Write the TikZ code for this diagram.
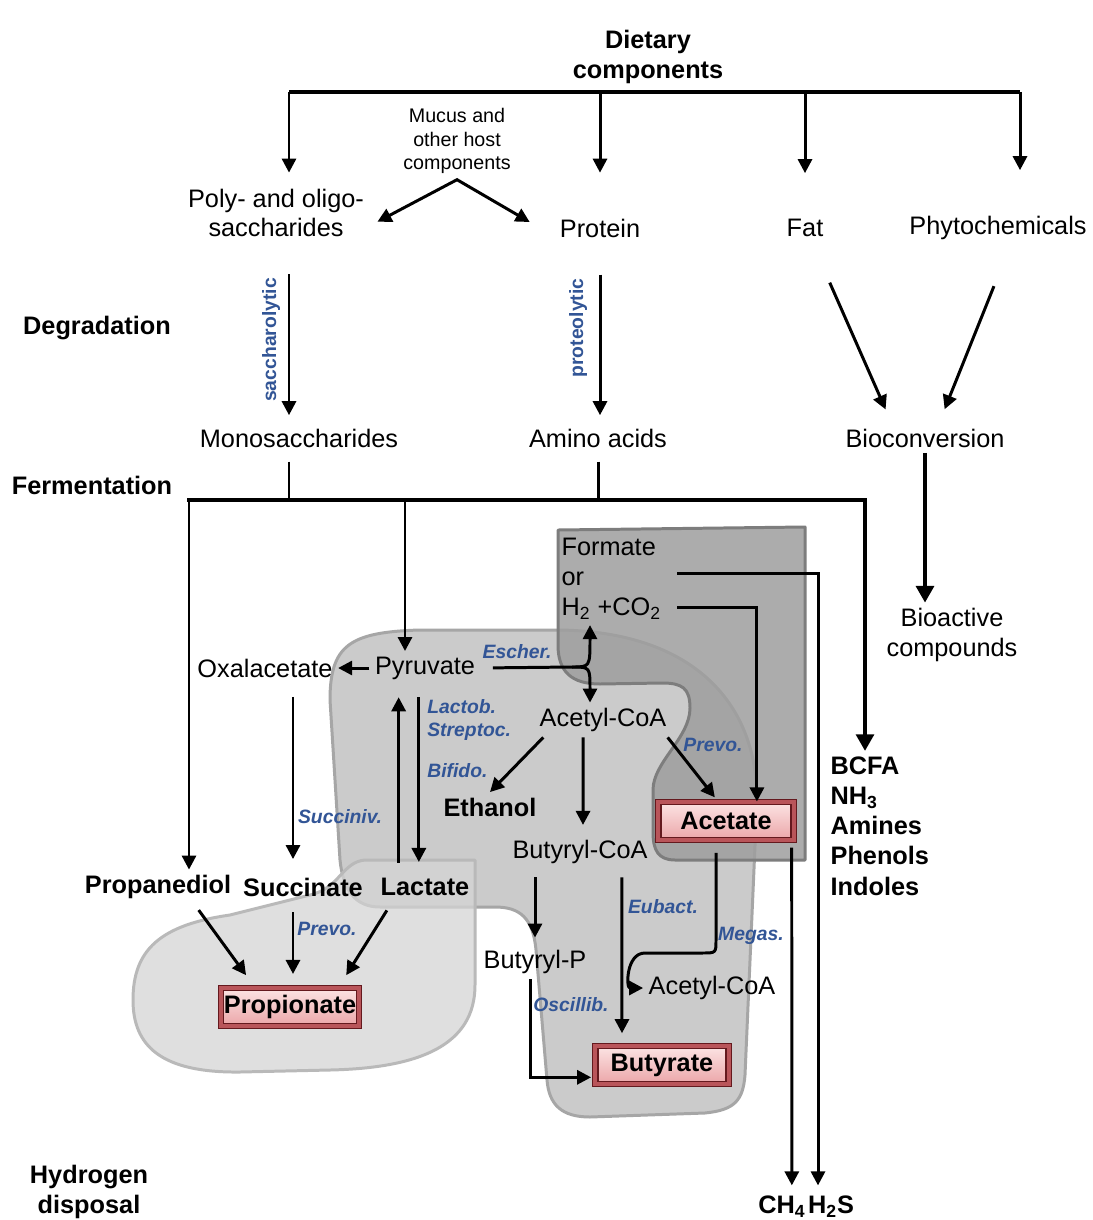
\documentclass[tikz,border=0pt]{standalone}
\usepackage{fontspec}
\setmainfont{Liberation Sans}
\usetikzlibrary{arrows.meta, calc, positioning}

\definecolor{bugblue}{RGB}{50,85,150}
\definecolor{zonelightfill}{RGB}{213,213,213}
\definecolor{zonelightline}{RGB}{185,185,185}
\definecolor{zonemidfill}{RGB}{203,203,203}
\definecolor{zonemidline}{RGB}{166,166,166}
\definecolor{zonedarkfill}{RGB}{158,158,158}
\definecolor{zonedarkline}{RGB}{125,125,125}
\definecolor{scfaedge}{RGB}{100,25,30}
\definecolor{scfaband}{RGB}{185,85,90}
\definecolor{scfatop}{RGB}{252,228,228}
\definecolor{scfabot}{RGB}{235,165,168}

\tikzset{
  metab/.style={inner sep=3pt, align=center, font=\fontsize{14.4}{17}\selectfont},
  prod/.style={inner sep=3pt, align=center, font=\fontsize{14.4}{17.2}\selectfont\bfseries},
  note/.style={inner sep=3pt, align=center, font=\fontsize{11.2}{13.6}\selectfont},
  bug/.style={inner sep=0pt, text=bugblue, font=\fontsize{11}{13}\selectfont\bfseries\itshape},
  route/.style={inner sep=0pt, text=bugblue, rotate=90, font=\fontsize{11}{13}\selectfont\bfseries},
  scfa/.style={draw=scfaedge, double=scfaband, double distance=2.4pt, line width=0.7pt,
    top color=scfatop, bottom color=scfabot, minimum height=21.5pt, inner sep=0pt,
    font=\fontsize{14.4}{17}\selectfont\bfseries},
  arr/.style={-{Triangle[length=8pt,width=8pt]}, line width=1.7pt},
  arrboth/.style={{Triangle[length=8pt,width=8pt]}-{Triangle[length=8pt,width=8pt]}, line width=1.7pt},
  trunk/.style={line width=2.5pt, -{Triangle[length=9.5pt,width=10pt]}},
  zone/.style={line width=1.7pt, line join=round},
}

\begin{document}
\begin{tikzpicture}[x=0.02cm, y=-0.02cm]
    \fill[white] (0,0) rectangle (1092,1220);
    \useasboundingbox (0,0) rectangle (1092,1220);

    % --- shaded zones ---
    \draw[zone, fill=zonemidfill, draw=zonemidline]
        (330,700) .. controls (330,645) and (350,632) .. (420,630) -- (560,630)
        .. controls (690,632) and (757,700) .. (757,800) -- (745,1075)
        .. controls (743,1100) and (735,1110) .. (705,1113) -- (590,1117)
        .. controls (562,1117) and (549,1105) .. (547,1080) -- (536,950)
        .. controls (533,918) and (520,907) .. (495,907) -- (380,907)
        .. controls (355,907) and (343,890) .. (340,860) -- cycle;
    \draw[zone, fill=zonedarkfill, fill opacity=0.85, draw=zonedarkline]
        (558,530) -- (805,527) -- (805,860) -- (675,860)
        .. controls (658,860) and (653,850) .. (653,832) -- (653,790)
        .. controls (653,762) and (690,738) .. (690,708)
        .. controls (690,688) and (682,683) .. (662,683) -- (600,684)
        .. controls (572,684) and (558,672) .. (558,645) -- cycle;
    \draw[zone, fill=zonelightfill, fill opacity=0.75, draw=zonelightline]
        (475,860) -- (475,985) .. controls (475,1045) and (420,1068) .. (330,1070)
        -- (240,1072) .. controls (160,1073) and (133,1045) .. (133,1000)
        .. controls (133,950) and (160,925) .. (230,915) -- (310,895)
        .. controls (340,888) and (342,862) .. (365,860) -- cycle;

    % --- diet and degradation ---
    \node[prod] (diet) at (648,57) {Dietary\\components};
    \node[note] (mucus) at (457,141) {Mucus and\\other host\\components};
    \node[metab] (poly) at (276,213) {Poly- and oligo-\\saccharides};
    \node[metab] (protein) at (600,228) {Protein};
    \node[metab] (fat) at (805,228) {Fat};
    \node[metab] (phyto) at (998,228) {Phytochemicals};
    \node[prod] (degr) at (97,328) {Degradation};
    \node[metab] (mono) at (299,438) {Monosaccharides};
    \node[metab] (amino) at (598,438) {Amino acids};
    \node[metab] (biocon) at (925,438) {Bioconversion};
    \node[prod] (ferm) at (92,485) {Fermentation};
    \node[metab] (bioact) at (952,635) {Bioactive\\compounds};

    % --- fermentation ---
    \node[metab, align=left, anchor=west] (formate) at (556,579) {Formate\\or\\H\textsubscript{2} +CO\textsubscript{2}};
    \node[metab] (pyr) at (425,668) {Pyruvate};
    \node[metab] (oxal) at (265,668) {Oxalacetate};
    \node[metab] (acoa) at (603,720) {Acetyl-CoA};
    \node[prod] (ethanol) at (490,807) {Ethanol};
    \node[metab] (bcoa) at (580,852) {Butyryl-CoA};
    \node[scfa, minimum width=77pt] (acetate) at (726,821) {Acetate};
    \node[prod] (propd) at (158,887) {Propanediol};
    \node[prod] (succ) at (303,887) {Succinate};
    \node[prod] (lact) at (425,887) {Lactate};
    \node[scfa, minimum width=78.6pt] (propionate) at (290,1007) {Propionate};
    \node[metab] (bp) at (535,962) {Butyryl-P};
    \node[metab] (acoa2) at (712,988) {Acetyl-CoA};
    \node[scfa, minimum width=76pt] (butyrate) at (662,1065) {Butyrate};
    \node[prod, align=left, anchor=west] (other) at (825,826) {BCFA\\NH\textsubscript{3}\\Amines\\Phenols\\Indoles};
    \node[prod] (hydro) at (89,1192) {Hydrogen\\disposal};
    \node[prod] (ch4) at (782,1207) {CH\textsubscript{4}};
    \node[prod] (h2s) at (831,1207) {H\textsubscript{2}S};

    % bacteria and routes
    \node[route] (sacch) at (271,340) {saccharolytic};
    \node[route] (proteo) at (578,328) {proteolytic};
    \node[bug] (escher) at (517,652) {Escher.};
    \node[bug, align=left, anchor=west] (lactob) at (427,720) {Lactob.\\Streptoc.};
    \node[bug, anchor=west] (bifido) at (427,771) {Bifido.};
    \node[bug] (succiniv) at (340,817) {Succiniv.};
    \node[bug] (prevoa) at (713,745) {Prevo.};
    \node[bug] (prevop) at (327,929) {Prevo.};
    \node[bug] (eubact) at (663,907) {Eubact.};
    \node[bug] (megas) at (751,936) {Megas.};
    \node[bug] (oscillib) at (571,1005) {Oscillib.};

    % --- connectors: diet ---
    \coordinate (dl) at (289,92);
    \coordinate (dr) at (1020,92);
    \draw[line width=1.8pt] (dl) -- (dr);
    \draw[arr, shorten >=6pt] (dl) -- (dl |- poly.north);
    \draw[arr, shorten >=23pt] (dl -| protein) -- (protein.north);
    \draw[arr, shorten >=23pt] (dl -| fat) -- (fat.north);
    \draw[arr, shorten >=23pt] (dr) -- (dr |- phyto.north);
    \draw[arrboth] ([xshift=4.5pt,yshift=-5pt]poly.east) -- (mucus.south) -- ([xshift=-14pt,yshift=3.4pt]protein.west);

    % degradation
    \draw[arr, shorten <=18pt, shorten >=4.5pt] (poly.south -| dl) -- (mono.north -| dl);
    \draw[arr, shorten <=18pt, shorten >=4.5pt] (protein.south) -- (protein.south |- amino.north);
    \draw[arr, shorten <=25pt, shorten >=8.5pt] ([xshift=4pt]fat.south) -- ([xshift=-19pt]biocon.north);
    \draw[arr, shorten <=25pt, shorten >=8.5pt] ([xshift=7pt]phyto.south) -- ([xshift=8pt]biocon.north);
    \draw[trunk] (biocon.south) -- (biocon.south |- bioact.north);

    % fermentation trunk
    \coordinate (tl) at (189,500);
    \coordinate (tr) at (865,500);
    \coordinate (tp) at (405,500);
    \draw[line width=1.7pt, shorten <=5pt] (mono.south -| dl) -- (dl |- tl);
    \draw[line width=1.7pt, shorten <=5pt] (amino.south) -- (amino.south |- tl);
    \draw[trunk, line cap=rect] (tl) -- (tr) -- (tr |- other.north);
    \draw[arr] (tl) -- (tl |- propd.north);
    \draw[arr] (tp) -- (tp |- pyr.north);

    % pyruvate
    \coordinate (split) at (572,667);
    \coordinate (fork) at (590,667);
    \draw[arr] (pyr.west) -- (oxal.east);
    \draw[line width=1.7pt, shorten <=7pt] (pyr.east) -- (split);
    \draw[arr] (split) .. controls (fork) .. (fork |- formate.south);
    \draw[arr] (split) .. controls (fork) .. (fork |- acoa.north);
    \draw[arr, shorten <=5.5pt, shorten >=7pt] ([xshift=-15pt]lact.north) -- ([xshift=-15pt]pyr.south);
    \draw[arr, shorten <=7pt, shorten >=6pt] ([xshift=-3.5pt]pyr.south) -- ([xshift=-3.5pt]lact.north);
    \draw[arr, shorten <=8pt, shorten >=7.4pt] ($(oxal.south -| succ.north)+(-10,0)$) -- ($(succ.north)+(-10,0)$);

    % acetyl-CoA
    \draw[arr] ([xshift=-34pt]acoa.south) -- (ethanol.north);
    \draw[arr, shorten >=5.5pt] ([xshift=-11.3pt]acoa.south) -- ([xshift=1.7pt]bcoa.north);
    \draw[arr, shorten >=3pt] ([xshift=36.8pt]acoa.south) -- ([xshift=-4.5pt]acetate.north);

    % hydrogen
    \draw[arr, shorten <=6pt] ([yshift=-16pt]formate.east) -| ([xshift=17.6pt]acetate.north);
    \draw[arr, shorten <=6pt, shorten >=3pt] ([yshift=3.4pt]formate.east) -| ([xshift=-7.4pt]h2s.north);
    \draw[arr, shorten <=4pt, shorten >=3pt] ([xshift=37.4pt]acetate.south) -- ([xshift=5.6pt]ch4.north);

    % propionate
    \draw[arr, shorten <=4pt] ([xshift=20.8pt]propd.south) -- ([xshift=-25pt,yshift=7pt]propionate.north);
    \draw[arr, shorten <=6pt, shorten >=7.7pt] ($(succ.south)+(-10,0)$) -- ($(succ.south |- propionate.north)+(-10,0)$);
    \draw[arr, shorten <=6pt] ([xshift=-18.5pt]lact.south) -- ([xshift=32pt,yshift=7pt]propionate.north);

    % butyrate
    \draw[arr, shorten <=4.5pt, shorten >=4pt] (bp.north |- bcoa.south) -- (bp.north);
    \draw[arr, shorten <=4.5pt, shorten >=7pt] ([xshift=23.8pt]bcoa.south) -- ($(bcoa.south |- butyrate.north)+(42,0)$);
    \draw[arr, shorten >=2pt] ([xshift=-2.5pt]bp.south) |- ([yshift=-7pt]butyrate.west);
    \draw[arr, shorten <=7pt] ([xshift=-5.6pt]acetate.south) -- (716,940) .. controls (716,953) .. (702,953)
        -- (645,953) .. controls (626,953) and (626,988) .. (acoa2.west);
\end{tikzpicture}
\end{document}
